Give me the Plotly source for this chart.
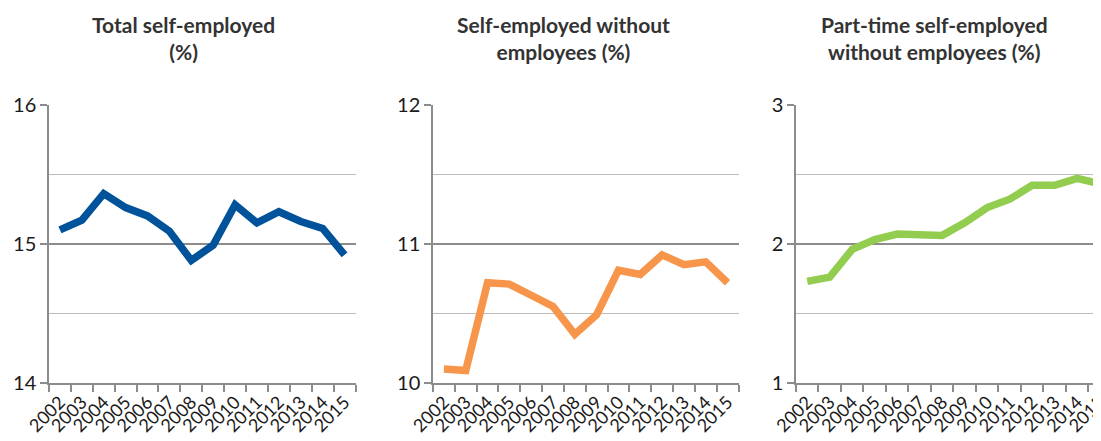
import plotly.graph_objects as go

years = [str(y) for y in range(2002, 2016)]

total_self_employed = [15.10, 15.17, 15.36, 15.26, 15.20, 15.09, 14.88,
                       14.99, 15.28, 15.15, 15.23, 15.16, 15.11, 14.92]
without_employees = [10.10, 10.09, 10.72, 10.71, 10.63, 10.55, 10.35,
                     10.49, 10.81, 10.78, 10.92, 10.85, 10.87, 10.72]
part_time_without_employees = [1.73, 1.76, 1.96, 2.03, 2.07, 2.07, 2.06,
                               2.15, 2.26, 2.32, 2.42, 2.42, 2.47, 2.43]

titles = ['Total self-employed<br>(%)',
          'Self-employed without<br>employees (%)',
          'Part-time self-employed<br>without employees (%)']
y_ranges = [[14, 16], [10, 12], [1, 3]]
colors = ['#00529B', '#F7964A', '#92CD4F']
series = [total_self_employed, without_employees, part_time_without_employees]

# the page body adds an 8px margin, so the figure is drawn 8px smaller and shifted
OFF = 8
W, H = 1101 - OFF, 441 - OFF
x_domains = [[(49 - OFF) / W, (355.5 - OFF) / W],
             [(433 - OFF) / W, (738.5 - OFF) / W],
             [(796 - OFF) / W, 1.0]]
x_ranges = [[-0.5, 13.5], [-0.5, 13.5], [-0.5, 13.06]]
y_domain = [1 - (383 - OFF) / H, 1 - (104.5 - OFF) / H]
title_x = [(183 - OFF) / W, (563 - OFF) / W, (934 - OFF) / W]

font_family = 'Lato'

fig = go.Figure()
for i in range(3):
    sfx = '' if i == 0 else str(i + 1)
    fig.add_trace(go.Scatter(x=years, y=series[i], mode='lines',
                             line={'color': colors[i], 'width': 7.5},
                             xaxis='x' + sfx, yaxis='y' + sfx,
                             showlegend=False, cliponaxis=True))
    fig.update_layout({
        'xaxis' + sfx: dict(domain=x_domains[i], anchor='y' + sfx, type='category',
                            range=x_ranges[i], tickmode='linear', dtick=1,
                            tickson='boundaries', ticks='outside',
                            ticklen=7, tickcolor='#8c8c8c', tickwidth=1.5,
                            showline=True, linecolor='#8c8c8c', linewidth=1.5,
                            showgrid=False, tickangle=-45, automargin=False,
                            tickfont=dict(size=18, color='#1a1a1a', family=font_family)),
        'yaxis' + sfx: dict(domain=y_domain, anchor='x' + sfx, range=y_ranges[i],
                            dtick=1, ticks='outside', ticklen=7, tickcolor='#8c8c8c',
                            tickwidth=1.5, showline=True, linecolor='#8c8c8c', linewidth=1.5,
                            showgrid=True, gridcolor='#8c8c8c', gridwidth=1.5,
                            zeroline=False, automargin=False,
                            minor=dict(dtick=0.5, showgrid=True, gridcolor='#bdbdbd', gridwidth=1),
                            tickfont=dict(size=20, color='#1a1a1a', family=font_family)),
    })
    fig.add_annotation(text=titles[i], x=title_x[i], y=1 - (10 - OFF) / H,
                       xref='paper', yref='paper',
                       xanchor='center', yanchor='top', showarrow=False,
                       font=dict(size=21, color='#333333', family=font_family, weight='bold'))

fig.update_layout(width=W, height=H, margin=dict(l=0, r=0, t=0, b=0),
                  plot_bgcolor='white', paper_bgcolor='white',
                  font=dict(family=font_family))

fig.write_html('out.html')
